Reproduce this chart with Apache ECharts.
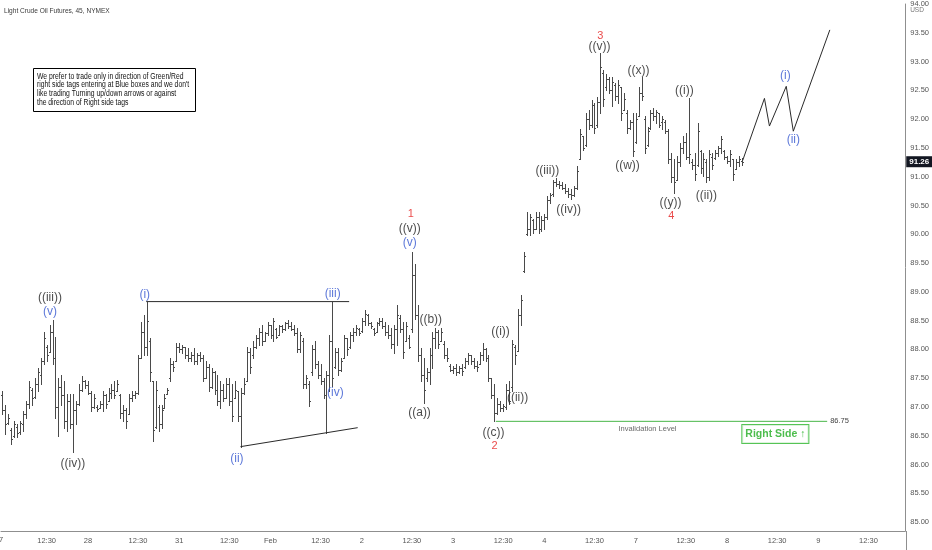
<!DOCTYPE html>
<html><head><meta charset="utf-8">
<script src="https://cdn.jsdelivr.net/npm/echarts@6/dist/echarts.min.js"></script>
<style>html,body{margin:0;padding:0;background:#fff}#c{width:932px;height:550px}</style>
</head><body><div id="c"></div>
<script>
const FONT = '"Liberation Sans","DejaVu Sans Condensed",Arial,sans-serif';
const chartTitle = 'Light Crude Oil Futures, 45, NYMEX';
const slotCount = 307;
const xTickIdx = [15,29,46,60,77,91,108,122,139,153,170,184,201,215,232,246,263,277,294];
const xTickText = ['12:30','28','12:30','31','12:30','Feb','12:30','2','12:30','3','12:30','4','12:30','7','12:30','8','12:30','9','12:30'];
const yTicks = [85,85.5,86,86.5,87,87.5,88,88.5,89,89.5,90,90.5,91,91.5,92,92.5,93,93.5,94];
// [open, high, low, close]
const bars = [
[87.2,87.27,86.87,86.95],[86.95,87.04,86.53,86.7],[86.72,86.87,86.70,86.8],[86.6,86.64,86.35,86.45],[86.5,86.76,86.47,86.7],
[86.65,86.70,86.47,86.55],[86.56,86.76,86.53,86.72],[86.7,86.93,86.59,86.88],[86.88,87.10,86.81,87.05],[87.05,87.45,86.99,87.35],
[87.3,87.33,87.04,87.15],[87.18,87.50,87.16,87.4],[87.4,87.68,87.27,87.6],[87.55,87.85,87.39,87.8],[87.8,88.31,87.74,88.2],
[88.05,88.08,87.79,87.9],[87.96,88.42,87.96,88.3],[88.3,88.51,87.74,87.85],[87.85,88.22,86.81,87.0],[87.0,87.50,86.50,87.35],
[87.35,87.56,87.04,87.2],[87.2,87.45,86.64,86.75],[86.75,87.22,86.59,87.1],[87.1,87.22,86.64,86.7],[86.7,87.22,86.21,86.95],
[86.95,87.10,86.70,87.05],[87.05,87.39,87.04,87.3],[87.3,87.53,87.27,87.45],[87.45,87.47,87.33,87.38],[87.38,87.45,87.22,87.25],
[87.25,87.27,86.93,87.0],[87.0,87.22,86.99,87.15],[87.0,87.04,86.93,86.97],[86.99,87.10,86.99,87.05],[87.05,87.27,86.93,87.2],
[87.2,87.22,86.99,87.05],[87.1,87.33,87.10,87.25],[87.25,87.39,87.16,87.3],[87.3,87.45,87.16,87.2],[87.27,87.47,87.27,87.4],
[87.2,87.22,86.81,86.9],[86.9,87.04,86.76,86.95],[86.95,86.99,86.64,86.75],[86.87,87.22,86.87,87.15],[87.15,87.27,87.10,87.2],
[87.2,87.27,87.16,87.25],[87.25,87.91,87.22,87.85],[87.85,88.48,87.85,88.3],[88.3,88.60,87.91,88.05],[88.05,88.83,87.91,88.5],
[88.15,88.19,87.45,87.6],[87.45,87.45,86.41,86.6],[86.65,87.45,86.64,87.3],[87.0,87.04,86.59,86.7],[86.7,87.04,86.64,86.95],
[86.99,87.22,86.99,87.15],[87.22,87.33,87.22,87.3],[87.5,87.85,87.45,87.75],[87.75,87.79,87.62,87.7],[87.8,88.11,87.79,88.05],
[88.05,88.11,87.96,88.0],[88.0,88.08,87.93,88.05],[88.05,88.05,87.85,87.9],[87.9,88.02,87.79,87.85],[87.85,87.96,87.79,87.9],
[87.9,88.02,87.74,87.8],[87.8,87.93,87.74,87.9],[87.9,87.96,87.79,87.85],[87.85,87.91,87.45,87.5],[87.5,87.79,87.50,87.7],
[87.7,87.74,87.27,87.35],[87.35,87.68,87.33,87.6],[87.6,87.62,87.22,87.3],[87.3,87.56,87.04,87.1],[87.1,87.45,86.99,87.3],
[87.3,87.39,87.10,87.15],[87.16,87.50,87.16,87.4],[87.4,87.50,87.04,87.1],[87.1,87.39,86.76,86.85],[87.16,87.45,87.16,87.3],
[87.27,87.27,86.76,86.85],[86.85,87.33,86.31,87.25],[87.25,87.50,87.22,87.4],[87.45,88.05,87.45,87.95],
[87.95,88.02,87.59,87.7],[87.9,88.14,87.85,88.05],[88.05,88.25,88.02,88.2],[88.2,88.37,88.08,88.3],[88.3,88.42,88.08,88.15],
[88.15,88.31,88.14,88.28],[88.28,88.48,88.25,88.42],[88.42,88.42,88.19,88.25],[88.25,88.54,88.14,88.5],[88.35,88.37,88.19,88.22],
[88.25,88.42,88.25,88.4],[88.4,88.42,88.31,88.35],[88.35,88.48,88.34,88.45],[88.45,88.51,88.37,88.4],[88.4,88.48,88.34,88.36],
[88.36,88.42,88.25,88.28],[88.28,88.37,87.96,88.0],[88.0,88.31,87.96,88.25],[88.15,88.19,87.33,87.4],[87.4,87.56,87.33,87.5],
[87.4,87.45,87.01,87.1],[87.6,88.08,87.56,88.0],[88.0,88.14,87.68,87.75],[87.75,87.79,87.50,87.55],[87.55,87.74,87.39,87.45],
[87.45,87.50,87.16,87.2],[87.2,87.62,86.55,87.55],[87.55,88.25,87.27,88.15],[88.15,88.83,87.36,87.5],[87.7,88.02,87.68,87.95],
[87.95,88.02,87.56,87.65],[87.65,87.85,87.62,87.8],[87.85,88.25,87.85,88.2],[88.19,88.19,87.91,88.0],[88.05,88.31,88.02,88.25],
[88.25,88.37,88.14,88.3],[88.3,88.42,88.25,88.38],[88.35,88.37,88.25,88.28],[88.32,88.54,88.31,88.5],[88.5,88.68,88.42,88.62],
[88.6,88.62,88.42,88.45],[88.45,88.48,88.37,88.4],[88.36,88.37,88.25,88.28],[88.31,88.48,88.31,88.45],[88.45,88.54,88.42,88.5],
[88.5,88.54,88.37,88.4],[88.4,88.48,88.25,88.3],[88.3,88.42,88.19,88.25],[88.25,88.37,88.02,88.1],[88.1,88.42,87.93,88.35],
[88.35,88.77,88.08,88.6],[88.55,88.60,88.31,88.35],[88.35,88.48,87.85,87.95],[88.15,88.48,88.14,88.4],[88.2,88.25,88.02,88.05],
[88.35,89.69,88.31,89.3],[89.3,89.48,88.52,88.6],[88.6,88.77,87.79,87.9],[87.9,88.02,87.45,87.55],[87.55,87.85,87.07,87.3],
[87.5,87.68,87.45,87.6],[87.6,88.02,87.39,87.9],[87.9,88.31,87.68,88.2],[88.2,88.37,88.02,88.3],[88.3,88.34,88.02,88.1],
[88.15,88.37,88.14,88.3],[88.1,88.14,87.85,87.9],[87.9,88.02,87.79,87.85],[87.72,87.74,87.62,87.65],[87.65,87.71,87.59,87.68],
[87.68,87.74,87.56,87.6],[87.6,87.71,87.59,87.68],[87.68,87.74,87.56,87.62],[87.7,87.85,87.68,87.8],[87.8,87.93,87.74,87.9],
[87.9,87.91,87.74,87.8],[87.8,87.85,87.68,87.72],[87.72,87.79,87.62,87.7],[87.75,87.96,87.74,87.9],[87.9,88.11,87.82,88.0],
[88.0,88.02,87.79,87.85],[87.85,87.91,87.45,87.5],[87.5,87.50,87.16,87.2],[87.2,87.39,86.75,86.9],[86.9,87.16,86.87,87.05],
[87.05,87.10,86.93,86.98],[86.98,87.05,86.93,87.02],[87.0,87.39,86.96,87.3],[87.3,87.45,87.05,87.1],[87.35,88.17,87.28,88.1],
[88.05,88.08,87.74,87.9],[87.97,88.71,87.97,88.6],[88.6,88.94,88.42,88.85],[89.36,89.69,89.34,89.62],[90.0,90.38,89.98,90.1],
[90.1,90.35,89.98,90.3],[90.25,90.26,90.03,90.1],[90.1,90.38,90.09,90.3],[90.3,90.38,90.03,90.1],[90.1,90.32,90.06,90.25],
[90.25,90.35,90.09,90.3],[90.3,90.67,90.26,90.6],[90.6,90.72,90.55,90.68],[90.7,90.95,90.67,90.9],[90.9,90.98,90.84,90.88],
[90.88,90.93,90.81,90.85],[90.85,90.90,90.78,90.8],[90.8,90.87,90.72,90.75],[90.75,90.81,90.64,90.7],[90.7,90.78,90.61,90.68],
[90.68,90.84,90.67,90.8],[90.8,91.18,90.78,91.1],[91.3,91.82,91.30,91.75],[91.7,91.70,91.47,91.5],[91.55,92.10,91.53,92.0],
[92.0,92.16,91.82,91.9],[91.9,92.33,91.87,92.25],[92.25,92.28,91.76,91.85],[91.9,92.39,91.87,92.3],[92.3,93.15,92.10,92.9],
[92.8,92.85,92.22,92.35],[92.55,92.79,92.51,92.7],[92.7,92.74,92.45,92.5],[92.5,92.74,92.22,92.65],[92.6,92.62,92.33,92.4],
[92.4,92.68,92.28,92.6],[92.55,92.56,91.99,92.1],[92.16,92.45,92.16,92.35],[92.1,92.16,91.76,91.85],[91.85,91.99,91.82,91.95],
[91.95,92.10,91.36,91.45],[91.6,92.10,91.59,92.0],[92.05,92.56,92.05,92.45],[92.45,92.74,92.33,92.4],[92.0,92.05,91.41,91.5],
[91.55,91.87,91.53,91.8],[91.85,92.16,91.82,92.1],[92.1,92.19,91.99,92.05],[92.05,92.16,91.93,92.12],[92.1,92.10,91.87,91.9],
[91.95,92.05,91.82,92.0],[91.95,91.99,91.76,91.8],[91.8,91.82,91.24,91.3],[91.3,91.41,90.90,91.0],[91.0,91.30,90.72,90.9],
[90.95,91.36,90.95,91.25],[91.25,91.59,91.18,91.5],[91.5,91.70,91.41,91.6],[91.6,91.76,91.30,91.35],[91.35,92.36,91.24,91.4],
[91.25,91.30,91.13,91.2],[91.2,91.41,90.95,91.05],[91.2,91.93,91.18,91.8],[91.45,91.47,91.07,91.15],[91.15,91.41,91.01,91.3],
[91.25,91.30,90.90,91.0],[91.0,91.47,90.95,91.4],[91.35,91.41,91.13,91.2],[91.32,91.47,91.30,91.42],[91.42,91.53,91.36,91.5],
[91.5,91.70,91.41,91.65],[91.45,91.47,91.30,91.35],[91.35,91.36,91.24,91.28],[91.28,91.47,91.18,91.4],[91.3,91.30,90.95,91.05],
[91.13,91.30,91.13,91.25],[91.25,91.36,91.18,91.3],[91.28,91.33,91.21,91.26]
];
const lastPrice = 91.26;
const projection = [[251.3,91.28],[258.7,92.36],[260.4,91.88],[266.1,92.57],[268.5,91.79],[280.9,93.55]];
const channelTop = [[48.8,88.83],[117.7,88.83]];
const channelBottom = [[80.8,86.31],[120.6,86.64]];
const invalidationLevel = 86.75;
const invalidationSpan = [167.5, 280];
// [x index, price, text, kind]
const waveLabels = [
[16.1,88.90,'((iii))','k'],[16.1,88.66,'(v)','b'],[23.9,86.02,'((iv))','k'],
[48.3,88.95,'(i)','b'],[79.6,86.10,'(ii)','b'],[112.1,88.97,'(iii)','b'],[113.0,87.24,'(iv)','b'],
[138.6,90.35,'1','r'],[138.3,90.09,'((v))','k'],[138.3,89.86,'(v)','b'],
[145.4,88.52,'((b))','k'],[141.6,86.90,'((a))','k'],[166.7,86.55,'((c))','k'],[167.1,86.32,'2','r'],
[169.1,88.31,'((i))','k'],[174.9,87.16,'((ii))','k'],[185.0,91.10,'((iii))','k'],[192.2,90.43,'((iv))','k'],
[203.0,93.45,'3','r'],[202.7,93.26,'((v))','k'],[215.9,92.84,'((x))','k'],[212.2,91.19,'((w))','k'],
[226.8,90.55,'((y))','k'],[227.1,90.32,'4','r'],[231.5,92.50,'((i))','k'],[239.0,90.67,'((ii))','k'],
[265.8,92.76,'(i)','b'],[268.5,91.64,'(ii)','b']
];
const noteLines = [
'We prefer to trade only in direction of Green/Red',
'right side tags entering at Blue boxes and we don\'t',
'like trading Turning up/down arrows or against',
'the direction of Right side tags'
];
const invalidationText = [219, 86.62, 'Invalidation Level'];
const rightSideTag = [262.4, 86.53, 'Right Side \u2191'];

const labelColors = {k:'#1a1a1a', b:'#3556cf', r:'#e51b1b'};

const chart = echarts.init(document.getElementById('c'), null, {renderer:'canvas'});

function renderOHLC(params, api) {
  const i = api.value(0);
  const o = api.coord([i, api.value(1)]);
  const h = api.coord([i, api.value(2)]);
  const l = api.coord([i, api.value(3)]);
  const c = api.coord([i, api.value(4)]);
  const x = Math.round(o[0]) + 0.5;
  const st = {stroke:'#4a4a4a', lineWidth:1};
  const yo = Math.round(o[1]) + 0.5, yc = Math.round(c[1]) + 0.5;
  return {type:'group', children:[
    {type:'line', shape:{x1:x, y1:Math.round(h[1]), x2:x, y2:Math.round(l[1]) + 1}, style:st},
    {type:'line', shape:{x1:x - 1.5, y1:yo, x2:x, y2:yo}, style:st},
    {type:'line', shape:{x1:x, y1:yc, x2:x + 1.5, y2:yc}, style:st}
  ]};
}

const option = {
  backgroundColor:'#ffffff',
  animation:false,
  grid:{left:1, right:26, top:0, bottom:19},
  xAxis:{
    type:'value', min:-0.5, max:slotCount - 0.5,
    axisLine:{show:true, onZero:false, lineStyle:{color:'#8f8f8f', width:1}},
    axisTick:{show:false}, splitLine:{show:false},
    axisLabel:{customValues:xTickIdx, formatter:(v)=>xTickText[xTickIdx.indexOf(Math.round(v))] || '',
      color:'#555', fontFamily:FONT, fontSize:7.5, margin:6}
  },
  yAxis:{
    type:'value', position:'right', min:84.845, max:94.0,
    axisLine:{show:true, onZero:false, lineStyle:{color:'#8f8f8f', width:1}},
    axisTick:{show:false}, splitLine:{show:false},
    axisLabel:{customValues:yTicks, formatter:(v)=>v.toFixed(2), color:'#555', fontFamily:FONT, fontSize:7.5, margin:5, showMinLabel:true, showMaxLabel:true}
  },
  series:[
    {type:'custom', name:'bars', renderItem:renderOHLC, clip:true,
     encode:{x:0, y:[1,2,3,4]},
     data:bars.map((b,i)=>[i, b[0], b[1], b[2], b[3]]), z:3},
    {type:'line', name:'projection', data:projection, symbol:'none', lineStyle:{color:'#2a2a2a', width:1}, z:4,
     markLine:{silent:true, symbol:'none', lineStyle:{color:'rgba(0,0,0,0)', width:0},
       data:[{yAxis:lastPrice, label:{show:true, position:'end', formatter:lastPrice.toFixed(2), color:'#fff', backgroundColor:'#131722', fontFamily:FONT, fontSize:8, fontWeight:'bold', padding:[2,3,1,3], distance:1}}]}},
    {type:'line', name:'channelTop', data:channelTop, symbol:'none', lineStyle:{color:'#2a2a2a', width:1}, z:4},
    {type:'line', name:'channelBottom', data:channelBottom, symbol:'none', lineStyle:{color:'#2a2a2a', width:1}, z:4},
    {type:'line', name:'invalidation', data:[[invalidationSpan[0], invalidationLevel],[invalidationSpan[1], invalidationLevel]],
     symbol:'none', lineStyle:{color:'#49b649', width:1}, z:4,
     endLabel:{show:true, formatter:invalidationLevel.toFixed(2), color:'#444', fontFamily:FONT, fontSize:7.5, distance:3}},
    {type:'scatter', name:'labels', symbolSize:1, itemStyle:{color:'rgba(0,0,0,0)'}, z:6,
     data:waveLabels.map(w=>({value:[w[0], w[1]], name:w[2],
       label:{show:true, position:'inside', formatter:w[2], color:labelColors[w[3]], fontFamily:FONT, fontSize:w[3]==='r'?11:12}}))
       .concat([
         {value:[invalidationText[0], invalidationText[1]], label:{show:true, position:'inside', formatter:invalidationText[2], color:'#444', fontFamily:FONT, fontSize:7.5}},
         {value:[rightSideTag[0], rightSideTag[1]], label:{show:true, position:'inside', formatter:rightSideTag[2], color:'#21ad21', fontFamily:FONT, fontSize:10.5, fontWeight:'bold', backgroundColor:'#fff', borderColor:'#2cb52c', borderWidth:1, padding:[4,3,3,3]}}
       ])}
  ],
  graphic:[
    {type:'text', x:4, y:11, z:10, scaleX:0.82, style:{text:chartTitle, font:'8px ' + FONT, fill:'#3a3a3a', verticalAlign:'middle'}},
    {type:'rect', z:10, shape:{x:33.5, y:68.5, width:162, height:43}, style:{fill:'#fff', stroke:'#000', lineWidth:1}},
    {type:'text', x:37, y:72, z:11, scaleX:0.8, style:{text:noteLines.join('\n'), font:'8.5px ' + FONT, fill:'#111', lineHeight:8.7}},
    {type:'text', x:917, y:10, z:10, style:{text:'USD', font:'6.5px ' + FONT, fill:'#777', align:'center', verticalAlign:'middle'}},
    {type:'text', x:-1, y:536, z:10, style:{text:'27', font:'7.5px ' + FONT, fill:'#555', align:'center'}},
    {type:'line', z:10, shape:{x1:906.5, y1:531, x2:906.5, y2:550}, style:{stroke:'#8f8f8f', lineWidth:1}}
  ]
};
chart.setOption(option);
</script>
</body></html>
